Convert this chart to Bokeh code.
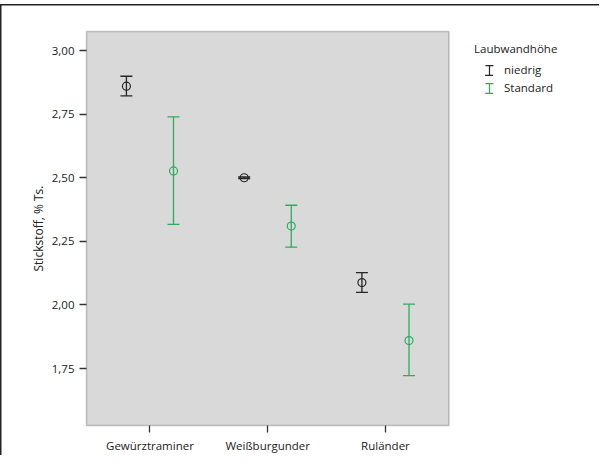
from bokeh.plotting import figure
from bokeh.models import (ColumnDataSource, Range1d, Whisker, TeeHead, BoxAnnotation,
                          Legend, LegendItem, FixedTicker, CustomJSTickFormatter)
from bokeh.transform import dodge
from bokeh.embed import file_html
from bokeh.resources import INLINE

# ---- data ----
categories = ["Gewürztraminer", "Weißburgunder", "Ruländer"]
series_names = ["niedrig", "Standard"]
niedrig_mean = [2.860, 2.500, 2.088]
niedrig_lower = [2.822, 2.497, 2.049]
niedrig_upper = [2.899, 2.503, 2.127]
standard_mean = [2.527, 2.310, 1.860]
standard_lower = [2.317, 2.227, 1.722]
standard_upper = [2.739, 2.392, 2.003]
y_ticks = [1.75, 2.00, 2.25, 2.50, 2.75, 3.00]

# plot-box extents (axis ranges of the grey panel)
box_x = (0.461, 3.539)
box_y = (1.526, 3.075)

# ---- layout / style ----
W, H = 599, 455
PX_X = 117.75       # px per category step
PX_Y = 254.2        # px per y unit
PAD = 3             # px of frame beyond the grey box
BORDER_L, BORDER_T, BORDER_B = 83, 28, 27
colors = ["#262626", "#2aae5c"]
offsets = [-0.2, 0.2]
FONT = "Open Sans"
TXT = "#222222"

cat_pos = list(range(1, len(categories) + 1))
x_start = box_x[0] - PAD / PX_X
x_end = x_start + (W - BORDER_L) / PX_X
y_start = box_y[0] - PAD / PX_Y
y_end = box_y[1] + PAD / PX_Y

p = figure(x_range=Range1d(x_start, x_end), y_range=Range1d(y_start, y_end),
           width=W, height=H, output_backend="svg", toolbar_location=None,
           min_border_left=BORDER_L, min_border_right=0,
           min_border_top=BORDER_T, min_border_bottom=BORDER_B)

p.background_fill_color = "white"
p.border_fill_alpha = 0
p.outline_line_color = None
p.xgrid.visible = False
p.ygrid.visible = False
p.styles = {"background": "linear-gradient(#222, #222) 0px 4px / 1.5px 100% no-repeat, "
                          "linear-gradient(#222, #222) 0px 4px / 100% 1.5px no-repeat"}

p.add_layout(BoxAnnotation(left=box_x[0], right=box_x[1], bottom=box_y[0], top=box_y[1],
                           fill_color="#d9d9d9", fill_alpha=1,
                           line_color="#4a4a4a", line_width=1.5, level="underlay"))

sources = [
    ColumnDataSource(dict(x=cat_pos, mean=niedrig_mean, lower=niedrig_lower, upper=niedrig_upper)),
    ColumnDataSource(dict(x=cat_pos, mean=standard_mean, lower=standard_lower, upper=standard_upper)),
]

nan = float("nan")
items = []
for src, col, off, name in zip(sources, colors, offsets, series_names):
    w = Whisker(base=dodge("x", off), upper="upper", lower="lower",
                source=src, dimension="height", line_color=col, line_width=1.3,
                upper_head=TeeHead(size=12, line_color=col, line_width=1.3),
                lower_head=TeeHead(size=12, line_color=col, line_width=1.3),
                level="annotation")
    p.add_layout(w)
    p.scatter(x=dodge("x", off), y="mean", source=src, marker="circle",
              size=8, fill_color=None, line_color=col, line_width=1.2)
    # legend icon (I-beam): caps from a dashed rect outline, stem from a very thin ellipse
    caps = p.rect(x="x", y="y", width=1, height=1,
                  source=ColumnDataSource(dict(x=[nan], y=[nan])),
                  fill_color=None, line_color=col, line_width=1.2,
                  line_dash="0 8 8 26 8 18")
    stem = p.ellipse(x="x", y="y", width=0.01, height=10,
                     width_units="screen", height_units="screen",
                     source=ColumnDataSource(dict(x=[nan], y=[nan])),
                     fill_color=None, line_color=col, line_width=1.2)
    items.append(LegendItem(label=name, renderers=[caps, stem]))

legend = Legend(items=items, title="Laubwandhöhe", location=(391, 333),
                glyph_width=30, glyph_height=12, label_height=12, label_standoff=-9,
                spacing=3, padding=0, margin=0, border_line_color=None,
                background_fill_alpha=0, title_standoff=6,
                inactive_fill_alpha=0,
                label_text_font=FONT, label_text_font_size="11.5px", label_text_color=TXT,
                title_text_font=FONT, title_text_font_size="11.5px",
                title_text_font_style="normal", title_text_color=TXT)
p.add_layout(legend)

for ax in (p.xaxis[0], p.yaxis[0]):
    ax.axis_line_color = None
    ax.major_tick_out = 4
    ax.major_tick_in = PAD
    ax.minor_tick_line_color = None
    ax.major_tick_line_color = "#333333"
    ax.major_tick_line_width = 1.3
    ax.major_label_text_font = FONT
    ax.major_label_text_font_size = "11.5px"
    ax.major_label_text_color = TXT
    ax.major_label_standoff = 5

p.xaxis.ticker = FixedTicker(ticks=cat_pos)
p.xaxis.major_label_overrides = {pos: name for pos, name in zip(cat_pos, categories)}

p.yaxis.ticker = FixedTicker(ticks=y_ticks)
p.yaxis.formatter = CustomJSTickFormatter(code="return tick.toFixed(2).replace('.', ',');")
p.yaxis.axis_label = "Stickstoff, % Ts."
p.yaxis.axis_label_text_font = FONT
p.yaxis.axis_label_text_font_size = "12px"
p.yaxis.axis_label_text_font_style = "normal"
p.yaxis.axis_label_text_color = TXT
p.yaxis.axis_label_standoff = 2

open("out.html", "w").write(file_html(p, INLINE))
